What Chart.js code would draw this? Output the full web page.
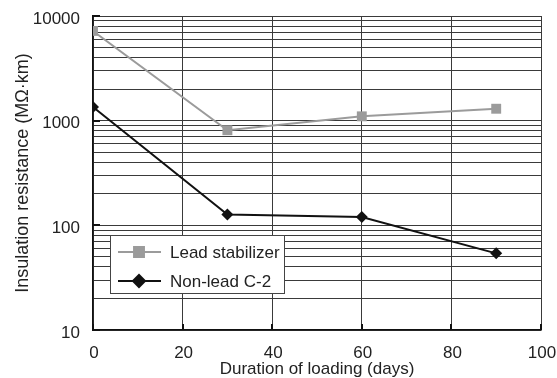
<!DOCTYPE html>
<html>
<head>
<meta charset="utf-8">
<script src="https://cdn.jsdelivr.net/npm/chart.js@4"></script>
<style>
  html, body { margin: 0; padding: 0; background: #fff; }
  #wrap { width: 557px; height: 378px; }
</style>
</head>
<body>
<div id="wrap"><canvas id="myChart"></canvas></div>
<script>
// data

var days          = [0, 30, 60, 90];
var leadValues    = [7200, 810, 1100, 1300];
var nonLeadValues = [1350, 127, 120, 54];

var xTicks        = [0, 20, 40, 60, 80, 100];
var yDecades      = [10, 100, 1000, 10000];

var seriesNames   = ["Lead stabilizer", "Non-lead C-2"];

// config

var fontFamily = "'Liberation Sans', Arial, sans-serif";
var fontSize   = 17;
var gridColor  = "#3a3a3a";

// log grid: every 1..9 step of each decade
function logGridValues()
{
    var vals = [];
    for (var i = 0; i < yDecades.length; i++) {
        var d = yDecades[i];
        if (i == yDecades.length - 1) { vals.push(d); break; }
        for (var k = 1; k < 10; k++) vals.push(d * k);
    }
    return vals;
}

function toPoints(values)
{
    return days.map((d, i) => ({ x: d, y: values[i] }));
}

// legend box drawn inside the plot, like the original
var boxLegend = {
    id: "boxLegend",
    afterDraw(chart) {
        const ctx = chart.ctx;
        const area = chart.chartArea;
        const x0 = 110, y0 = 235, w = 174, h = 58;
        ctx.save();
        ctx.fillStyle = "#fff";
        ctx.fillRect(x0, y0, w, h);
        ctx.strokeStyle = "#444";
        ctx.lineWidth = 1;
        ctx.strokeRect(x0 + 0.5, y0 + 0.5, w, h);

        chart.data.datasets.forEach((ds, i) => {
            const cy = y0 + 17 + i * 29;
            ctx.strokeStyle = ds.borderColor;
            ctx.lineWidth = ds.borderWidth;
            ctx.beginPath();
            ctx.moveTo(x0 + 8, cy);
            ctx.lineTo(x0 + 51, cy);
            ctx.stroke();
            Chart.helpers.drawPoint(ctx, {
                pointStyle: ds.pointStyle,
                radius: ds.pointRadius,
                borderWidth: 1,
                rotation: 0
            }, x0 + 29, cy);
            ctx.fillStyle = ds.pointBackgroundColor;
            ctx.fill();
            ctx.fillStyle = "#222";
            ctx.font = fontSize + "px " + fontFamily;
            ctx.textBaseline = "middle";
            ctx.textAlign = "left";
            ctx.fillText(ds.label, x0 + 60, cy + 1);
        });

        // small inward tick marks on the left and bottom axes
        ctx.strokeStyle = "#111";
        ctx.lineWidth = 2;
        const ys = chart.scales.y, xs = chart.scales.x;
        yDecades.forEach(v => {
            const py = Math.round(ys.getPixelForValue(v));
            ctx.beginPath(); ctx.moveTo(area.left, py); ctx.lineTo(area.left + 7, py); ctx.stroke();
        });
        xTicks.forEach(v => {
            const px = Math.round(xs.getPixelForValue(v));
            ctx.beginPath(); ctx.moveTo(px, area.bottom); ctx.lineTo(px, area.bottom - 6); ctx.stroke();
        });
        ctx.restore();
    }
};

function loadCanvas()
{
    var ctx = document.getElementById("myChart");
    new Chart(ctx.getContext("2d"), {
        type: "line",
        data: {
            datasets: [{
                label: seriesNames[0],
                data: toPoints(leadValues),
                borderColor: "#9b9b9b",
                backgroundColor: "#9b9b9b",
                pointBackgroundColor: "#9b9b9b",
                pointBorderColor: "#9b9b9b",
                borderWidth: 2,
                pointStyle: "rect",
                pointRadius: 7,
                pointBorderWidth: 0,
                tension: 0
            }, {
                label: seriesNames[1],
                data: toPoints(nonLeadValues),
                borderColor: "#111",
                backgroundColor: "#111",
                pointBackgroundColor: "#111",
                pointBorderColor: "#111",
                borderWidth: 2,
                pointStyle: "rectRot",
                pointRadius: 6,
                pointBorderWidth: 0,
                tension: 0
            }]
        },
        options: {
            responsive: true,
            maintainAspectRatio: false,
            animation: false,
            layout: { padding: { top: 16, right: 16, left: 0, bottom: 0 } },
            plugins: {
                legend: { display: false },
                tooltip: { enabled: false }
            },
            scales: {
                x: {
                    type: "linear",
                    min: 0,
                    max: 100,
                    afterBuildTicks: (scale) => { scale.ticks = xTicks.map(v => ({ value: v })); },
                    afterFit: (scale) => {
                        scale.height = 48;
                        scale.paddingLeft = 0;
                        scale.paddingRight = 0;
                    },
                    grid: { color: gridColor, lineWidth: 1, drawTicks: false },
                    border: { color: "#111", width: 1.5 },
                    ticks: {
                        color: "#222",
                        padding: 13,
                        labelOffset: 1,
                        font: { family: fontFamily, size: fontSize }
                    },
                    title: {
                        display: true,
                        text: "Duration of loading (days)",
                        color: "#222",
                        padding: { top: 0, bottom: 0 },
                        font: { family: fontFamily, size: fontSize, lineHeight: 1.05 }
                    }
                },
                y: {
                    type: "logarithmic",
                    min: 10,
                    max: 10000,
                    afterBuildTicks: (scale) => { scale.ticks = logGridValues().map(v => ({ value: v })); },
                    afterFit: (scale) => {
                        scale.width = 93;
                        scale.paddingTop = 0;
                        scale.paddingBottom = 0;
                    },
                    grid: { color: gridColor, lineWidth: 1, drawTicks: false },
                    border: { color: "#111", width: 1.5 },
                    ticks: {
                        autoSkip: false,
                        color: "#222",
                        padding: 13,
                        labelOffset: 3,
                        font: { family: fontFamily, size: fontSize },
                        callback: (v) => yDecades.indexOf(v) >= 0 ? String(v) : ""
                    },
                    title: {
                        display: true,
                        text: "Insulation resistance (MΩ·km)",
                        color: "#222",
                        padding: { top: 12, bottom: 0 },
                        font: { family: fontFamily, size: 18 }
                    }
                }
            }
        },
        plugins: [boxLegend]
    });
}

loadCanvas();
</script>
</body>
</html>
